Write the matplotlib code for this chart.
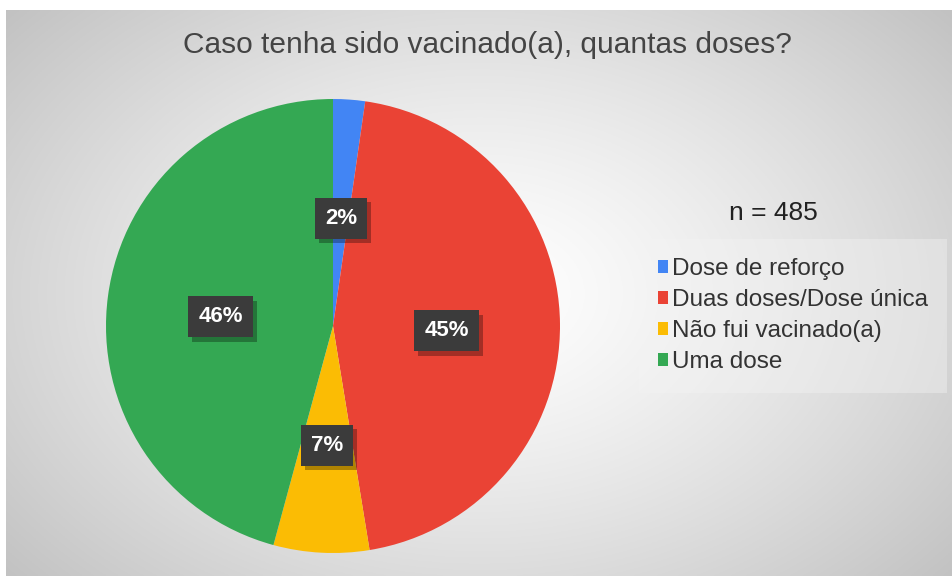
import numpy as np
import matplotlib.pyplot as plt
import matplotlib.patheffects as pe

plt.rcParams['font.family'] = ['Liberation Sans', 'DejaVu Sans']

# dados
categorias = ['Dose de reforço', 'Duas doses/Dose única', 'Não fui vacinado(a)', 'Uma dose']
respostas = [11, 219, 33, 222]
cores = ['#4285F4', '#EA4335', '#FBBC04', '#34A853']
total = 485

W, H = 952, 579
fig = plt.figure(figsize=(W / 100, H / 100), dpi=100, facecolor='white')

# fundo com gradiente radial
bg = fig.add_axes([6 / W, 3 / H, 1 - 6 / W, 1 - 13 / H])
yy, xx = np.mgrid[0:300, 0:500]
cx, cy = 250, 150
d = np.sqrt(((xx - cx) / 330.0) ** 2 + ((yy - cy) / 230.0) ** 2)
d = np.clip(d, 0, 1)
g = 1.0 - 0.24 * d ** 1.3
bg.imshow(np.dstack([g, g, g]), aspect='auto', extent=[0, 1, 0, 1])
bg.axis('off')

# pizza
r = 227
cxp, cyp = 333, 326
ax = fig.add_axes([(cxp - r) / W, (H - cyp - r) / H, 2 * r / W, 2 * r / H])
wedges, _, autotexts = ax.pie(
    respostas, colors=cores, startangle=90, counterclock=False,
    autopct='%1.0f%%', pctdistance=0.5, radius=1,
    wedgeprops=dict(linewidth=0),
    textprops=dict(color='white', fontsize=16, fontweight='bold'))
ax.set_xlim(-1, 1)
ax.set_ylim(-1, 1)
ax.set_aspect('auto')

for t in autotexts:
    x, y = t.get_position()
    t.set_position((x, y - 6.0 / r))
    t.set_bbox(dict(boxstyle='square,pad=0.45', facecolor='#3b3b3b', edgecolor='none'))
    t.get_bbox_patch().set_path_effects([
        pe.SimplePatchShadow(offset=(3, -3), shadow_rgbFace='black', alpha=0.3),
        pe.Normal()])

# título
fig.text(487 / W, 1 - 45 / H, 'Caso tenha sido vacinado(a), quantas doses?',
         ha='center', va='center', fontsize=21.5, color='#444444')

fig.text(773 / W, 1 - 213 / H, f'n = {total}', ha='center', va='center',
         fontsize=19, color='#222222')

# legenda
leg = fig.legend(wedges, categorias, loc='upper left',
                 bbox_to_anchor=(634 / W, 1 - 234 / H), frameon=True,
                 fontsize=17.5, handlelength=0.4, handleheight=0.4,
                 handletextpad=0.15, labelspacing=0.37, borderpad=0.5,
                 labelcolor='#333333')
leg.get_frame().set_facecolor('#f4f4f4')
leg.get_frame().set_alpha(0.4)
leg.get_frame().set_edgecolor('none')
leg.get_frame().set_boxstyle('square')

fig.savefig('out.png', dpi=100, facecolor='white')
